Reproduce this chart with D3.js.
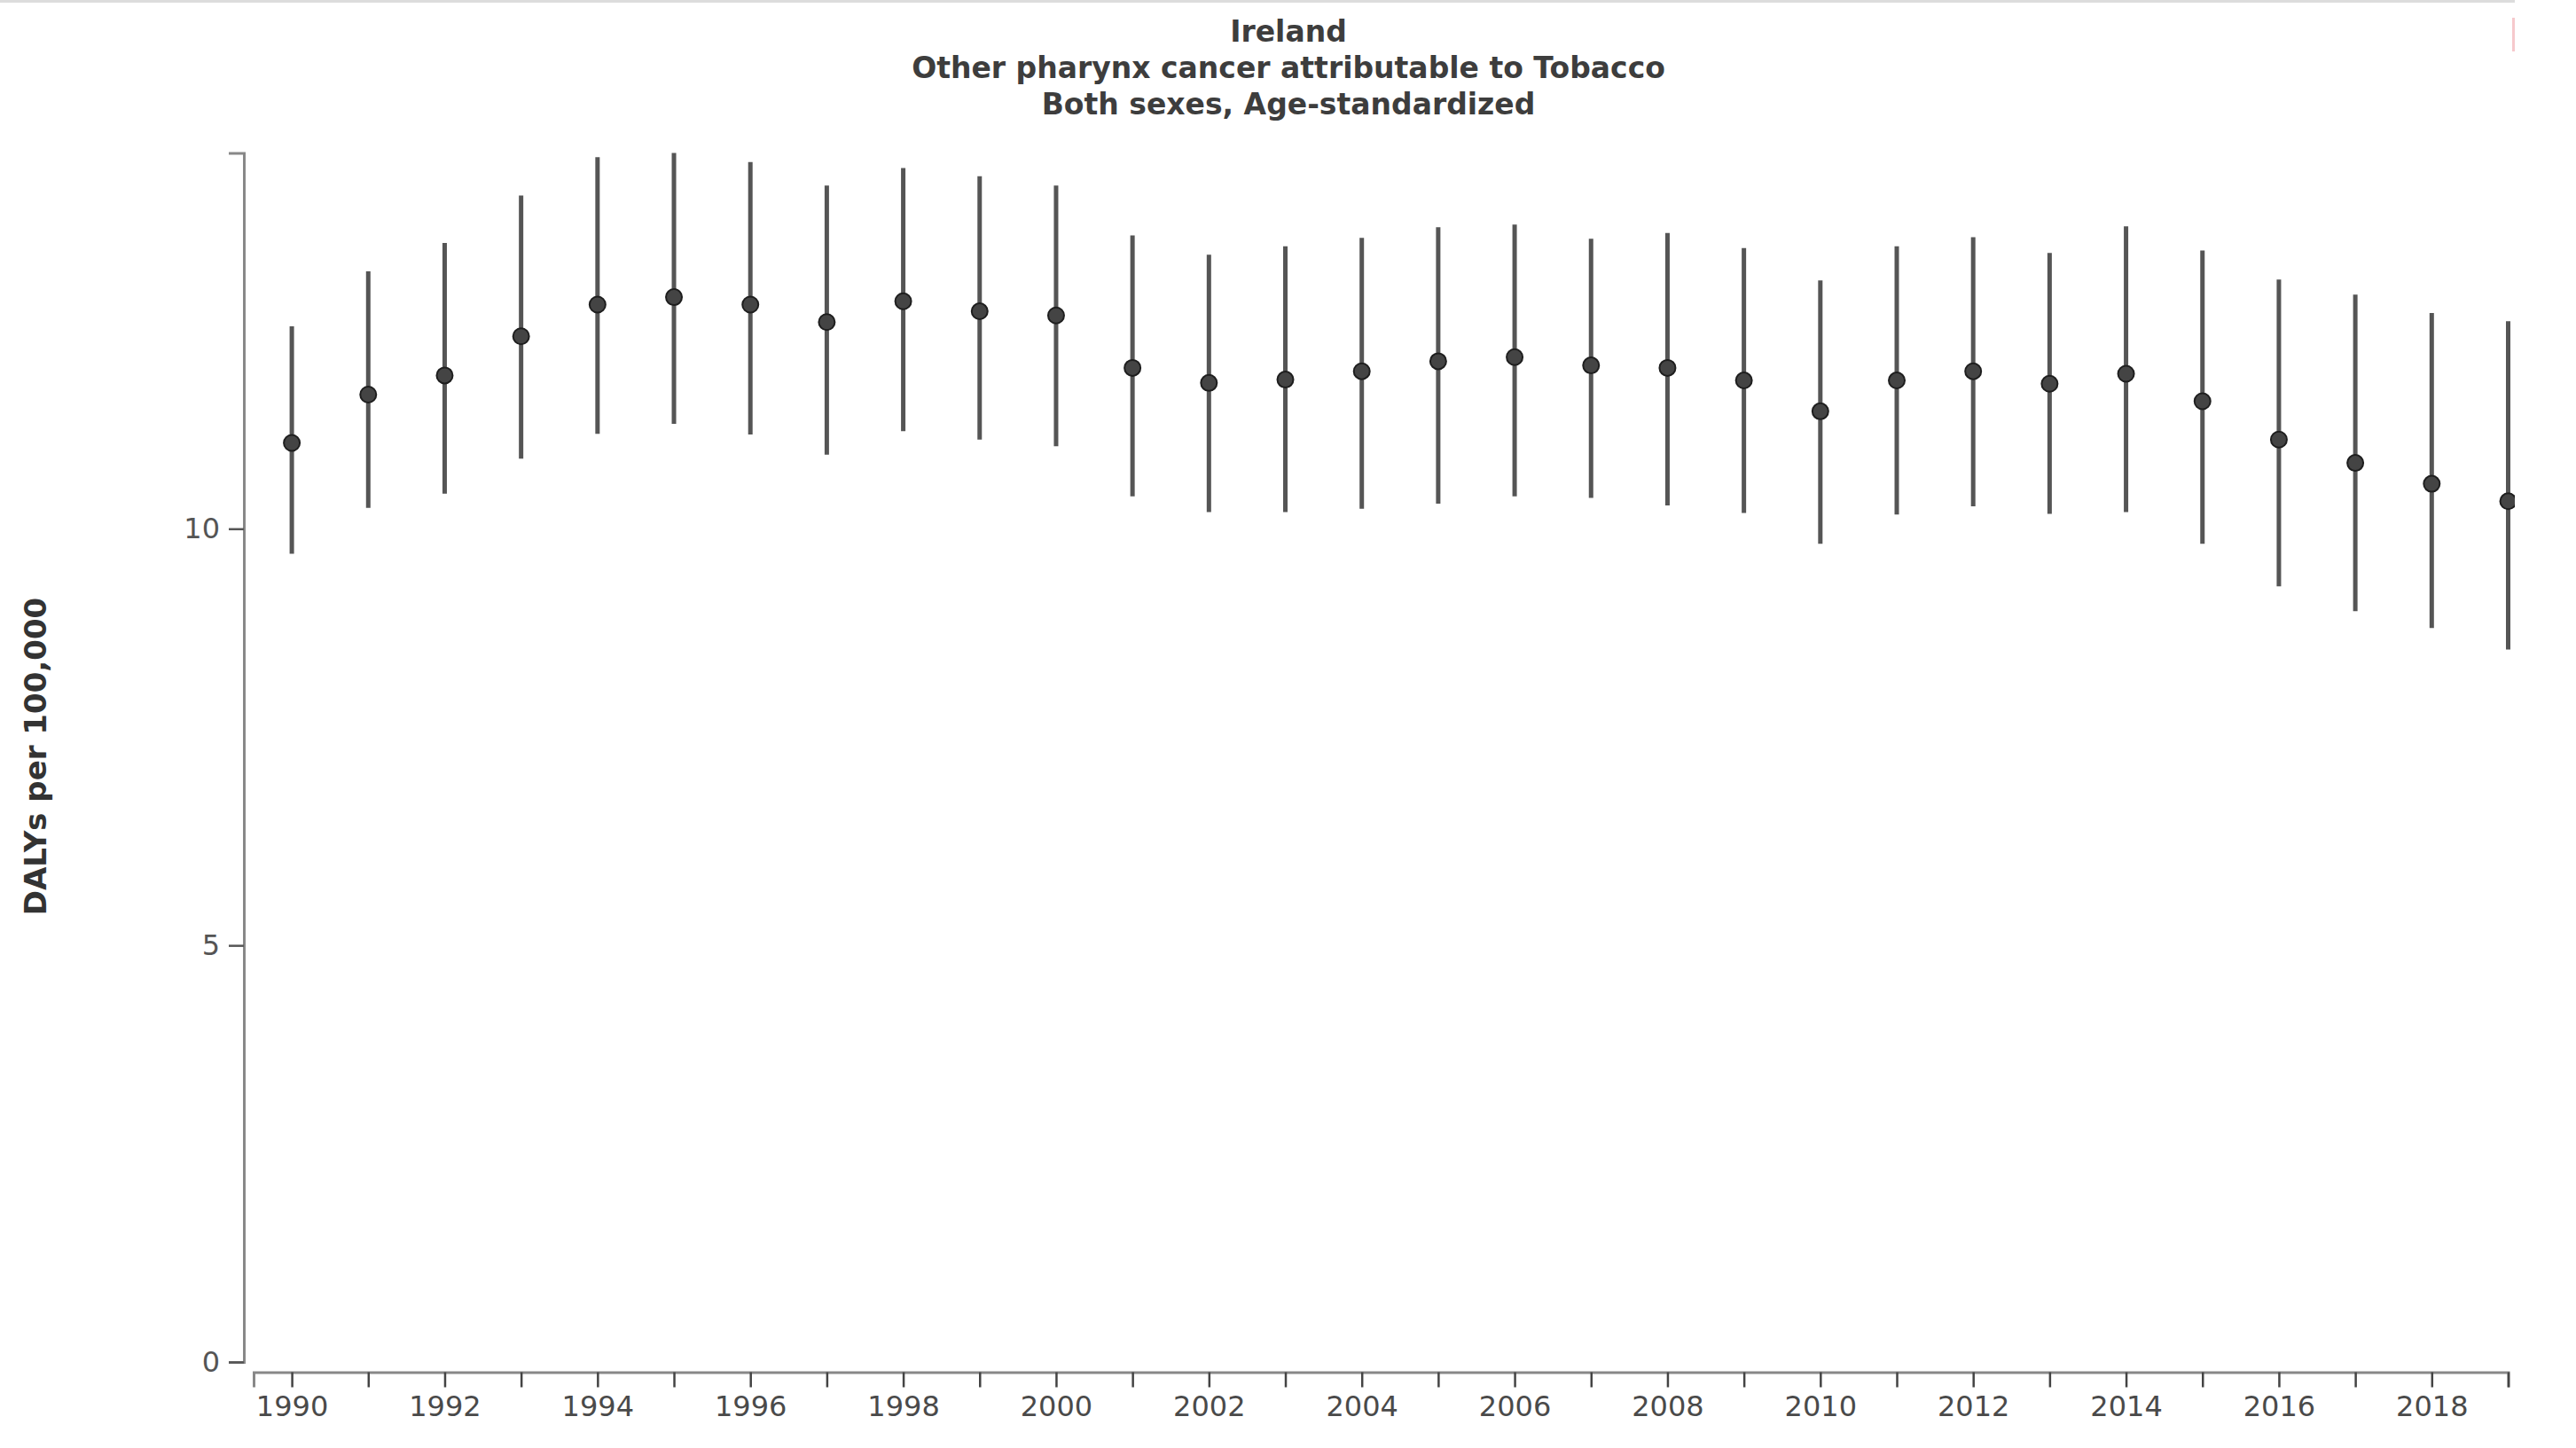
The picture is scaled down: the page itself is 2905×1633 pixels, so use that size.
<!DOCTYPE html>
<html>
<head>
<meta charset="utf-8">
<script src="https://cdn.jsdelivr.net/npm/d3@7"></script>
<style>
  html, body { margin: 0; padding: 0; background: #fff; }
  svg { display: block; }
  text { font-family: Verdana, "DejaVu Sans", sans-serif; }
</style>
</head>
<body>
<div id="chart"></div>
<script>
// ------------------------------------
// Data (DALYs per 100,000, Ireland)
// ------------------------------------
const years = [1990, 1991, 1992, 1993, 1994, 1995, 1996, 1997, 1998, 1999,
               2000, 2001, 2002, 2003, 2004, 2005, 2006, 2007, 2008, 2009,
               2010, 2011, 2012, 2013, 2014, 2015, 2016, 2017, 2018, 2019];
const mean  = [11.03, 11.61, 11.84, 12.31, 12.69, 12.78, 12.69, 12.48, 12.73, 12.61,
               12.56, 11.93, 11.75, 11.79, 11.89, 12.01, 12.06, 11.96, 11.93, 11.78,
               11.41, 11.78, 11.89, 11.74, 11.86, 11.53, 11.07, 10.79, 10.54, 10.33];
const upper = [12.43, 13.09, 13.43, 14.00, 14.46, 14.51, 14.40, 14.12, 14.33, 14.23,
               14.12, 13.52, 13.29, 13.39, 13.49, 13.62, 13.65, 13.48, 13.55, 13.37,
               12.98, 13.39, 13.50, 13.31, 13.63, 13.34, 12.99, 12.81, 12.59, 12.49];
const lower = [9.70, 10.25, 10.42, 10.84, 11.14, 11.26, 11.13, 10.89, 11.17, 11.07,
               10.99, 10.39, 10.20, 10.20, 10.24, 10.30, 10.39, 10.37, 10.28, 10.19,
               9.82, 10.17, 10.27, 10.18, 10.20, 9.82, 9.31, 9.01, 8.81, 8.55];
const yTicks = [0, 5, 10];
const titleLines = ["Ireland",
                    "Other pharynx cancer attributable to Tobacco",
                    "Both sexes, Age-standardized"];
const yLabel = "DALYs per 100,000";

// ------------------------------------
// Build chart
// ------------------------------------
const width = 2905, height = 1633;
const frameW = 2836;   // visible chart frame, dots past it are clipped

const svg = d3.select("#chart")
    .append("svg")
    .attr("width", width)
    .attr("height", height);

svg.append("defs").append("clipPath")
    .attr("id", "frame")
    .append("rect")
    .attr("x", 0).attr("y", 0)
    .attr("width", frameW).attr("height", height);

const g = svg.append("g").attr("clip-path", "url(#frame)");

// top border
g.append("rect")
    .attr("x", 0).attr("y", 0)
    .attr("width", frameW).attr("height", 3)
    .attr("fill", "#dcdcdc");

// small pink marker at top right edge
svg.append("rect")
    .attr("x", frameW - 3).attr("y", 20)
    .attr("width", 3).attr("height", 38)
    .attr("fill", "#f6c9cc");

const data = years.map((yr, i) => ({ year: yr, mean: mean[i], lo: lower[i], hi: upper[i] }));

const x = d3.scaleLinear()
    .domain([1989.5, years[years.length - 1]])
    .range([286, 2828.5]);

const y = d3.scaleLinear()
    .domain([0, d3.max(upper)])
    .range([1536, 172.5]);

// Title
const title = g.append("text")
    .attr("text-anchor", "middle")
    .attr("font-weight", "bold")
    .attr("font-size", 33)
    .attr("fill", "#3d3d3d");
titleLines.forEach((t, i) => {
  title.append("tspan")
      .attr("x", 1453)
      .attr("y", 47 + i * 41)
      .text(t);
});

// Y axis
const yAxis = g.append("g")
    .attr("transform", "translate(275,0)")
    .call(d3.axisLeft(y)
        .tickValues(yTicks)
        .tickFormat(d3.format("d"))
        .tickSize(17)
        .tickSizeOuter(17)
        .tickPadding(10));
yAxis.select(".domain").attr("stroke", "#888").attr("stroke-width", 3);
yAxis.selectAll(".tick line").attr("stroke", "#555").attr("stroke-width", 2.5);
yAxis.selectAll(".tick text")
    .attr("font-size", 32)
    .attr("font-family", 'Verdana, "DejaVu Sans", sans-serif')
    .attr("fill", "#555");

// X axis
const xAxis = g.append("g")
    .attr("transform", "translate(0,1547.5)")
    .call(d3.axisBottom(x)
        .tickValues(years)
        .tickFormat(d => d % 2 === 0 ? d : "")
        .tickSize(17)
        .tickSizeOuter(17)
        .tickPadding(10));
xAxis.select(".domain").attr("stroke", "#888").attr("stroke-width", 3);
xAxis.selectAll(".tick line").attr("stroke", "#444").attr("stroke-width", 2.5);
xAxis.selectAll(".tick text")
    .attr("font-size", 32)
    .attr("font-family", 'Verdana, "DejaVu Sans", sans-serif')
    .attr("fill", "#4a4a4a");

// Y label
g.append("text")
    .attr("transform", "translate(52,853) rotate(-90)")
    .attr("text-anchor", "middle")
    .attr("font-weight", "bold")
    .attr("font-size", 34)
    .attr("fill", "#333")
    .text(yLabel);

// Error bars
g.selectAll("line.bar")
    .data(data)
    .enter()
    .append("line")
    .attr("class", "bar")
    .attr("x1", d => x(d.year))
    .attr("x2", d => x(d.year))
    .attr("y1", d => y(d.hi))
    .attr("y2", d => y(d.lo))
    .attr("stroke", "#555")
    .attr("stroke-width", 5);

// Means
g.selectAll("circle.mean")
    .data(data)
    .enter()
    .append("circle")
    .attr("class", "mean")
    .attr("cx", d => x(d.year))
    .attr("cy", d => y(d.mean))
    .attr("r", 9)
    .attr("fill", "#444")
    .attr("stroke", "#1e1e1e")
    .attr("stroke-width", 2);
</script>
</body>
</html>
